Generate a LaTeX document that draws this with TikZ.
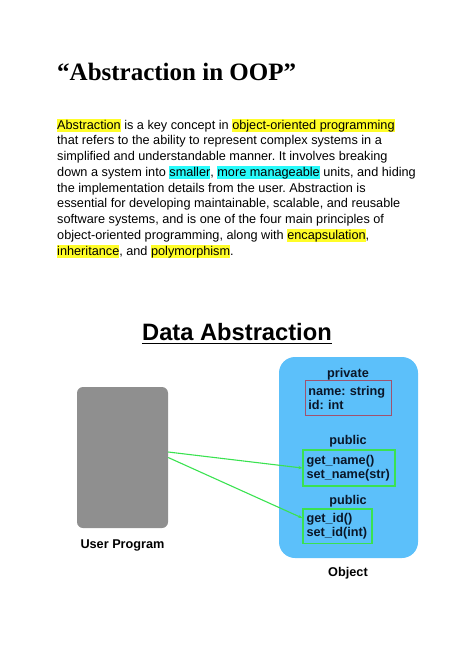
\documentclass[tikz,border=0pt]{standalone}
\usepackage{fontspec}
\setmainfont{Liberation Sans}
\newfontfamily\titlefont{Liberation Serif}
\usepackage{xcolor}
\usetikzlibrary{arrows.meta}

\definecolor{hlyellow}{RGB}{255,253,40}
\definecolor{hlcyan}{RGB}{40,250,250}
\definecolor{objblue}{RGB}{92,192,250}
\definecolor{progray}{RGB}{143,143,143}
\definecolor{privred}{RGB}{160,82,110}
\definecolor{pubgreen}{RGB}{58,226,80}
\definecolor{inktext}{RGB}{10,22,40}

\newcommand{\hly}[1]{{\fboxsep=0pt\colorbox{hlyellow}{\rule[-3.2pt]{0pt}{13pt}#1}}}
\newcommand{\hlc}[1]{{\fboxsep=0pt\colorbox{hlcyan}{\rule[-3.2pt]{0pt}{13pt}#1}}}
\frenchspacing

\begin{document}
\begin{tikzpicture}[x=1pt,y=-1pt,
    every node/.style={inner sep=0pt},
    lbltext/.style={font=\fontsize{12.7}{14.5}\selectfont\bfseries},
    member/.style={draw,line width=1.5pt,align=left,lbltext,text=inktext},
    link/.style={pubgreen,line width=1.1pt,-{Stealth[length=4pt,width=3.5pt]}}]
        \useasboundingbox (0,0) rectangle (474,670);
        % heading and text
        \node[anchor=base west,font=\titlefont\fontsize{25}{30}\selectfont\bfseries] (title) at (57,80) {“Abstraction in OOP”};
        \node[anchor=north west,align=left,font=\fontsize{12.7}{15.75}\selectfont] (para) at (57,119) {%
          \hly{Abstraction} is a key concept in \hly{object-oriented programming}\\
          that refers to the ability to represent complex systems in a\\
          simplified and understandable manner. It involves breaking\\
          down a system into \hlc{smaller}, \hlc{more manageable} units, and hiding\\
          the implementation details from the user. Abstraction is\\
          essential for developing maintainable, scalable, and reusable\\
          software systems, and is one of the four main principles of\\
          object-oriented programming, along with \hly{encapsulation},\\
          \hly{inheritance}, and \hly{polymorphism}.};
        % diagram
        \node[anchor=base,font=\fontsize{23.7}{28}\selectfont\bfseries] (datatitle) at (237,340.7) {Data Abstraction};
        \draw[line width=1.6pt] (datatitle.south west |- 0,343.3) -- (datatitle.south east |- 0,343.3);
        \node[fill=progray,rounded corners=6pt,minimum width=91pt,minimum height=141pt] (user) at (122.5,457.5) {};
        \node[lbltext] (userlbl) at (122.5,545) {User Program};
        \node[fill=objblue,rounded corners=16pt,minimum width=139pt,minimum height=201pt] (object) at (348.5,457.5) {};
        \node[lbltext] (objlbl) at (348,573) {Object};
        \node[lbltext,text=inktext] (private) at (348,374) {private};
        \node[member,draw=privred,minimum width=86pt,minimum height=35pt,text width=80pt] (fields) at (348.3,398.2) {name: string\\id: int};
        \node[lbltext,text=inktext] (public1) at (348,441) {public};
        \node[member,draw=pubgreen,minimum width=92pt,minimum height=36pt,text width=85pt] (namefns) at (349,468) {get\_name()\\set\_name(str)};
        \node[lbltext,text=inktext] (public2) at (348,501) {public};
        \node[member,draw=pubgreen,minimum width=69pt,minimum height=34.5pt,text width=62pt] (idfns) at (337.5,526) {get\_id()\\set\_id(int)};
        \draw[link] ([yshift=5.5pt]user.east) -- (namefns.west);
        \draw[link] (user.east) -- ([yshift=8pt]idfns.west);
\end{tikzpicture}
\end{document}
